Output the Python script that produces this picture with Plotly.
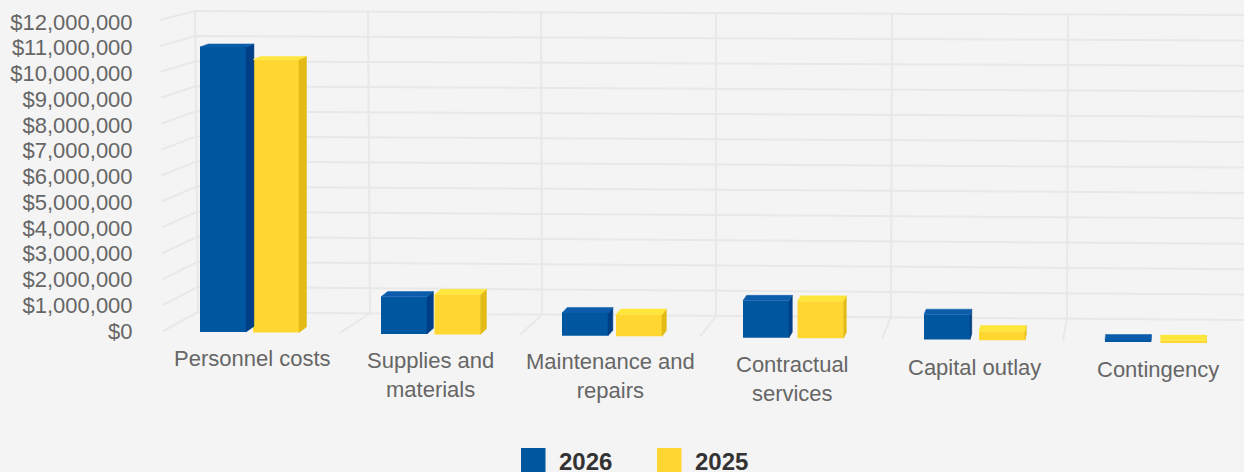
import plotly.graph_objects as go

categories = ["Personnel costs", "Supplies and<br>materials", "Maintenance and<br>repairs",
              "Contractual<br>services", "Capital outlay", "Contingency"]
values_2026 = [11070000, 1440000, 890000, 1440000, 970000, 50000]
values_2025 = [10600000, 1550000, 850000, 1440000, 350000, 50000]
tick_values = [i * 1000000 for i in range(13)]
label_px_x = [252, 430, 610, 792, 974, 1158]
label_px_y = [358, 374.5, 376, 378.5, 367, 369.5]

BG = "#f4f4f4"
GRID = "#e8e8e8"
W, H = 1244, 472
AXIS_PX = 140
PX_PER_M = 25.75
ZERO_PX = 331
CAT0_PX = 250
CAT_PX = 181
BAR_W_PX = 46
COL = {"2026": ("#00579f", "#003f85", "#0b5dab"), "2025": ("#ffd730", "#e3bb14", "#ffe63a")}


def X(px):
    return (px - CAT0_PX) / CAT_PX


def Y(px):
    return (ZERO_PX - px) / PX_PER_M * 1e6


def base_px(x):
    return 332 + 0.0105 * (x - 200)


def shift_dx(x):
    return 0.0085 * (1179 - x)


def shift_dy(y):
    return 3 + 2.6 * (y - 47) / 285


def bar_offset(name, i):
    return -50 if name == "2026" else 3 + 0.5 * i


fig = go.Figure()
shapes = []


def line(pts):
    path = "M " + " L ".join(f"{X(a)},{Y(b)}" for a, b in pts)
    shapes.append(dict(type="path", path=path, xref="x", yref="y", layer="below",
                       line=dict(color=GRID, width=2)))


# wall grid, projected from the tick values
for v in tick_values:
    f = v / 12e6
    bx = 198 - 3 * f
    by = 312 - 301 * f
    fx = 163 - 3 * f
    fy = 331 - 311 * f
    ey = 320 - 305 * f
    line([(fx, fy), (bx, by), (W, ey)])

wall_top = [195, 368, 541, 716, 892, 1068]
wall_bot = [198, 370, 542, 716, 891, 1067]
floor_front = [163, 340, 520, 700, 882, 1063]
for t, b, fr in zip(wall_top, wall_bot, floor_front):
    yb = 312 + 8 / 1045 * (b - 195)
    yt = 11 + 4 / 1045 * (t - 195)
    line([(t, yt), (b, yb)])
    if fr != 163:
        line([(b, yb), (fr, 331 + 0.0105 * (fr - 163))])


def add_series(name, vals):
    front, side, top = COL[name]
    bases, xs, offs = [], [], []
    for i, v in enumerate(vals):
        off = bar_offset(name, i)
        x0 = CAT0_PX + CAT_PX * i + off
        x1 = x0 + BAR_W_PX
        yb = base_px(x0)
        ytop = yb - v / 1e6 * PX_PER_M
        bases.append(Y(yb))
        xs.append(i)
        offs.append(off / CAT_PX)
        dx0, dx1 = shift_dx(x0), shift_dx(x1)
        dy_top, dy_bot = shift_dy(ytop), shift_dy(yb)
        side_pts = [(x1, yb), (x1, ytop), (x1 + dx1, ytop - dy_top), (x1 + dx1, yb - dy_bot), (x1, yb)]
        top_pts = [(x0, ytop), (x1, ytop), (x1 + dx1, ytop - dy_top), (x0 + dx0, ytop - dy_top), (x0, ytop)]
        for pts, c in ((side_pts, side), (top_pts, top)):
            fig.add_trace(go.Scatter(x=[X(a) for a, _ in pts], y=[Y(b) for _, b in pts],
                                     mode="lines", fill="toself", fillcolor=c,
                                     line=dict(color=c, width=0.5), hoverinfo="skip", showlegend=False))
    fig.add_trace(go.Bar(x=xs, y=vals, base=bases, name=name, width=BAR_W_PX / CAT_PX,
                         offset=offs, marker=dict(color=front, line=dict(width=0)),
                         showlegend=False))


add_series("2026", values_2026)
add_series("2025", values_2025)

annotations = []
for c, px, py in zip(categories, label_px_x, label_px_y):
    annotations.append(dict(x=X(px), y=Y(py), xref="x", yref="y", text=c, showarrow=False, xanchor="center",
                            yanchor="middle", align="center",
                            font=dict(family="Liberation Sans", size=22, color="#666666")))

# legend
for name, sx, tx in (("2026", 521, 557), ("2025", 657, 693)):
    shapes.append(dict(type="rect", xref="x", yref="y", x0=X(sx), x1=X(sx + 24.5), y0=Y(448), y1=Y(472),
                       fillcolor=COL[name][0], line=dict(width=0)))
    annotations.append(dict(x=X(tx), y=Y(461), xref="x", yref="y", text=f"<b>{name}</b>", showarrow=False,
                            xanchor="left", yanchor="middle",
                            font=dict(family="Liberation Sans", size=24, color="#333333")))

fig.update_layout(
    width=W, height=H, margin=dict(l=0, r=0, t=0, b=0, pad=0), paper_bgcolor=BG, plot_bgcolor=BG,
    showlegend=False, barmode="overlay", shapes=shapes, annotations=annotations,
    xaxis=dict(domain=[AXIS_PX / W, 1], range=[X(AXIS_PX), X(W)], visible=False),
    yaxis=dict(range=[Y(H), Y(0)], tickvals=tick_values, tickformat="$,.0f", showgrid=False, zeroline=False,
               showline=False, ticks="outside", ticklen=2, tickcolor="rgba(0,0,0,0)",
               tickfont=dict(family="Liberation Sans", size=22, color="#666666")),
)
fig.write_html("out.html", config={"displayModeBar": False}, post_script="document.body.style.margin='0';")
